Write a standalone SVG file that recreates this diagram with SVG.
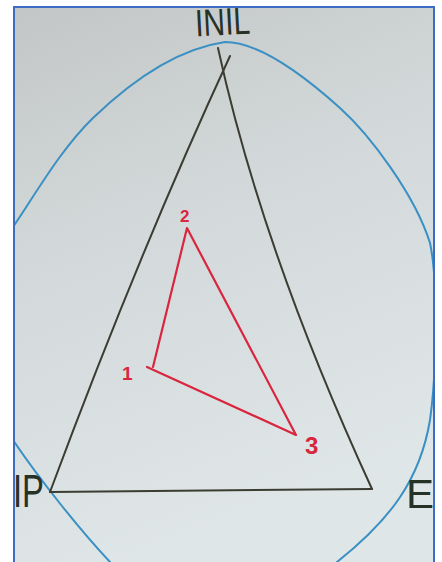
<svg xmlns="http://www.w3.org/2000/svg" width="442" height="562" viewBox="0 0 442 562">
<style>
.edge{fill:none;stroke:#3b3d33;stroke-width:2;stroke-linecap:round}
.red{fill:none;stroke:#d9263e;stroke-width:2.2;stroke-linecap:round;stroke-linejoin:round}
.lbl{font-family:"Liberation Sans",Arial,sans-serif;fill:#263226}
.rlbl{font-family:"Liberation Sans",Arial,sans-serif;fill:#d9263e;font-weight:bold}
</style>
<defs>
<linearGradient id="bg" x1="0" y1="0" x2="0.3" y2="1">
<stop offset="0" stop-color="#c3c6c6"/>
<stop offset="0.45" stop-color="#d3d9da"/>
<stop offset="1" stop-color="#dfe6e8"/>
</linearGradient>
<clipPath id="frame"><rect x="14" y="7" width="420" height="555"/></clipPath>
</defs>
<rect width="442" height="562" fill="#ffffff"/>
<rect x="14" y="7" width="420" height="556" fill="url(#bg)"/>
<g clip-path="url(#frame)">
<path id="envelope" d="M225,42 C258,42 300,72 340,108 C370,135 415,195 430,243 C438,280 437,370 430,420 C420,480 390,520 337,562 L337,600 L110,600 L110,562 C80,530 40,480 13,440 C-10,400 -25,360 -25,330 C-25,290 -5,250 13,227 C35,195 60,150 93,118 C120,92 170,50 225,42 Z" fill="none" stroke="#3a90c2" stroke-width="2"/>
<g id="connectors">
<path class="edge" d="M230,56 Q140,250 50,492"/>
<path class="edge" d="M218,48 Q262,250 372,489"/>
<path class="edge" d="M50,492 L372,489"/>
<path class="red" d="M153,367 L187,228 L296,435 L147,367"/>
</g>
<g id="node-INIL"><text class="lbl" x="195" y="35" font-size="38" textLength="55" lengthAdjust="spacingAndGlyphs" transform="rotate(-3 222 22)">INIL</text></g>
<g id="node-IP"><text class="lbl" x="13" y="507" font-size="46" textLength="31" lengthAdjust="spacingAndGlyphs">IP</text></g>
<g id="node-E"><text class="lbl" x="406" y="508" font-size="40" textLength="28" lengthAdjust="spacingAndGlyphs">E</text></g>
<g id="node-1"><text class="rlbl" x="122" y="380" font-size="19">1</text></g>
<g id="node-2"><text class="rlbl" x="180" y="222" font-size="17">2</text></g>
<g id="node-3"><text class="rlbl" x="305" y="454" font-size="24">3</text></g>
</g>
<rect x="14" y="7" width="420" height="558" fill="none" stroke="#3d6cc4" stroke-width="2"/>
</svg>
